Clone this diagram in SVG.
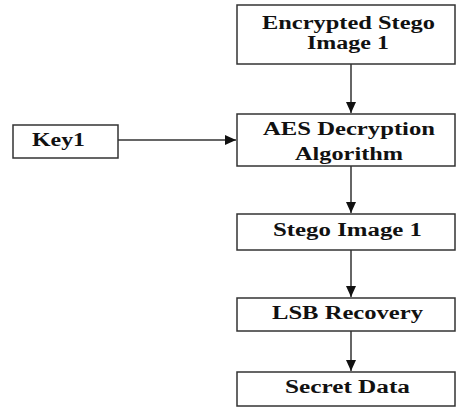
<svg xmlns="http://www.w3.org/2000/svg" width="456" height="407" viewBox="0 0 456 407">
<defs>
<style>
.box{fill:#fff;stroke:#333;stroke-width:1.5}
.t{font-family:"Liberation Serif","Times New Roman",serif;font-weight:bold;font-size:18px;fill:#111}
.c{stroke:#333;stroke-width:1.5;fill:none}
</style>
<marker id="ah" markerWidth="12" markerHeight="10" refX="11" refY="5" orient="auto" markerUnits="userSpaceOnUse">
<path d="M0,0 L11,5 L0,10 Z" fill="#111"/>
</marker>
</defs>
<rect width="456" height="407" fill="#fff"/>
<g id="n1">
<rect class="box" x="237" y="5" width="218" height="59"/>
<text class="t" x="262" y="29" textLength="173" lengthAdjust="spacingAndGlyphs">Encrypted Stego</text>
<text class="t" x="307" y="49" textLength="82" lengthAdjust="spacingAndGlyphs">Image 1</text>
</g>
<g id="n2">
<rect class="box" x="237" y="114" width="218" height="52"/>
<text class="t" x="263" y="135" textLength="172" lengthAdjust="spacingAndGlyphs">AES Decryption</text>
<text class="t" x="295" y="160" textLength="108" lengthAdjust="spacingAndGlyphs">Algorithm</text>
</g>
<g id="n3">
<rect class="box" x="237" y="214" width="218" height="36"/>
<text class="t" x="273" y="236" textLength="149" lengthAdjust="spacingAndGlyphs">Stego Image 1</text>
</g>
<g id="n4">
<rect class="box" x="237" y="298" width="218" height="33"/>
<text class="t" x="272" y="319" textLength="151" lengthAdjust="spacingAndGlyphs">LSB Recovery</text>
</g>
<g id="n5">
<rect class="box" x="237" y="372" width="218" height="34"/>
<text class="t" x="285" y="393" textLength="125" lengthAdjust="spacingAndGlyphs">Secret Data</text>
</g>
<g id="k1">
<rect class="box" x="13" y="125" width="105" height="33"/>
<text class="t" x="32" y="146" textLength="53" lengthAdjust="spacingAndGlyphs">Key1</text>
</g>
<g id="connectors">
<line class="c" x1="351" y1="64" x2="351" y2="113" marker-end="url(#ah)"/>
<line class="c" x1="351" y1="166" x2="351" y2="213" marker-end="url(#ah)"/>
<line class="c" x1="351" y1="250" x2="351" y2="297" marker-end="url(#ah)"/>
<line class="c" x1="351" y1="331" x2="351" y2="371" marker-end="url(#ah)"/>
<line class="c" x1="118" y1="140" x2="236" y2="140" marker-end="url(#ah)"/>
</g>
</svg>
